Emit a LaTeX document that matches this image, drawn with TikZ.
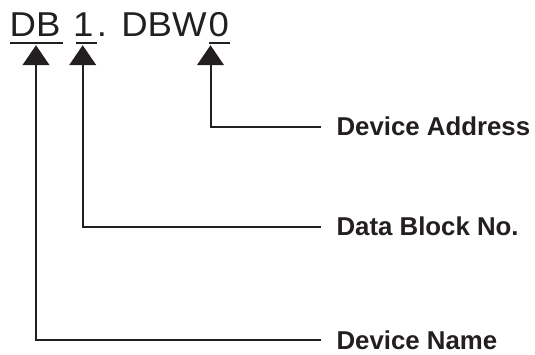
\documentclass[tikz,border=0pt]{standalone}
\usepackage{fontspec}
\setmainfont{Liberation Sans}
\newfontfamily\widefont[FakeStretch=1.06]{Liberation Sans}
\usetikzlibrary{arrows.meta}
\definecolor{ink}{HTML}{231F20}
\tikzset{
  toptext/.style={inner sep=0pt, text=ink, font=\widefont\fontsize{34.5}{40}\selectfont},
  labtext/.style={inner xsep=15.4pt, inner ysep=0pt, text=ink, font=\bfseries\fontsize{25.8}{30}\selectfont},
  uline/.style={draw=ink, line width=1.8pt},
  conn/.style={draw=ink, line width=2pt, line join=miter, -{Triangle[length=20pt,width=26.7pt]}}
}
\begin{document}
\begin{tikzpicture}[x=1pt,y=-1pt]
\useasboundingbox (0,0) rectangle (535,354);
% top text
\node[toptext, anchor=base west] (db) at (9.4,36.7) {DB};
\node[toptext, anchor=base west] (one) at (73,36.7) {1};
\node[toptext, anchor=base west] (dot) at (96.7,36.7) {.};
\node[toptext, anchor=base west] (dbw) at (121.1,36.7) {DBW};
\node[toptext, anchor=base west] (zero) at (208.4,36.7) {0};
% underlines
\draw[uline] (10,42.7) -- (63,42.7);
\draw[uline] (76,42.7) -- (97,42.7);
\draw[uline] (209,42.7) -- (230,42.7);
% arrow tips
\coordinate (tipname) at (36,45.2);
\coordinate (tipblock) at (82.7,45.2);
\coordinate (tipaddr) at (210.5,45.2);
% labels
\node[labtext, anchor=west] (addr) at (321,126.7) {Device Address};
\node[labtext, anchor=west] (blk) at (321,226.5) {Data Block No.};
\node[labtext, anchor=west] (name) at (321,340) {Device Name};
% connectors
\draw[conn] (addr.west) -| (tipaddr);
\draw[conn] (blk.west) -| (tipblock);
\draw[conn] (name.west) -| (tipname);
\end{tikzpicture}
\end{document}
